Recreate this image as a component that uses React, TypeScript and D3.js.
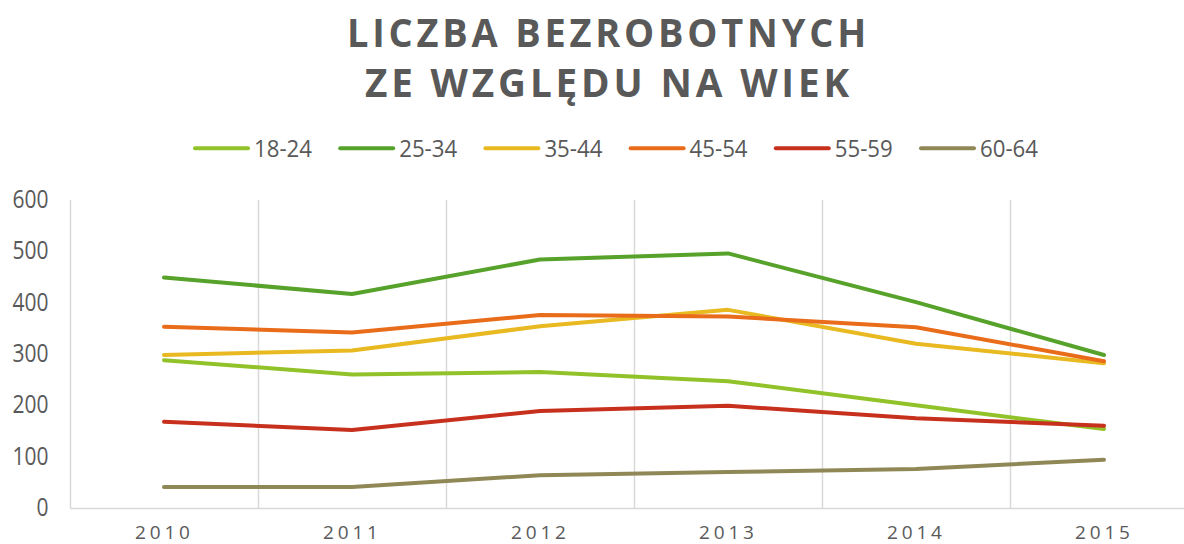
import React from "react";
import * as d3 from "d3";

const years = ["2010", "2011", "2012", "2013", "2014", "2015"];
const seriesNames = ["18-24", "25-34", "35-44", "45-54", "55-59", "60-64"];
const s1824 = [288, 260, 265, 247, 200, 154];
const s2534 = [449, 417, 484, 496, 401, 298];
const s3544 = [298, 307, 354, 386, 320, 282];
const s4554 = [353, 342, 376, 373, 352, 286];
const s5559 = [168, 152, 189, 199, 175, 160];
const s6064 = [41, 41, 64, 70, 76, 94];
const yTicks = [0, 100, 200, 300, 400, 500, 600];
const colors = ["#92c229", "#56a22a", "#e8b920", "#e96c1a", "#c8301e", "#8f8856"];

const allSeries = [s1824, s2534, s3544, s4554, s5559, s6064];

export default function App() {
  const W = 1184, H = 544;
  const left = 70, right = 1198, top = 200, bottom = 508;
  const x = d3.scaleBand<string>().domain(years).range([left, right]);
  const y = d3.scaleLinear().domain([0, 600]).range([bottom, top]);
  const line = d3
    .line<number>()
    .x((_, i) => (x(years[i]) as number) + x.bandwidth() / 2)
    .y((d) => y(d));
  const font = "'Open Sans', 'DejaVu Sans', sans-serif";
  const textColor = "#595959";
  return (
    <svg width={W} height={H} style={{ position: "absolute", left: 0, top: 0, background: "#fff" }}>
      <text x={608.5} y={47} textAnchor="middle" fontFamily={font} fontWeight={700} fontSize={40} letterSpacing={4} textLength={523} lengthAdjust="spacingAndGlyphs" fill={textColor}>
        LICZBA BEZROBOTNYCH
      </text>
      <text x={609} y={97} textAnchor="middle" fontFamily={font} fontWeight={700} fontSize={40} letterSpacing={4} textLength={488} lengthAdjust="spacingAndGlyphs" fill={textColor}>
        ZE WZGLĘDU NA WIEK
      </text>
      {seriesNames.map((n, i) => {
        const lx = 195 + i * 145.2;
        return (
          <g key={n}>
            <line x1={lx} x2={lx + 53} y1={148.3} y2={148.3} stroke={colors[i]} strokeWidth={4} strokeLinecap="round" />
            <text x={lx + 59} y={156.7} fontFamily={font} fontSize={24} fill={textColor} textLength={58} lengthAdjust="spacingAndGlyphs">
              {n}
            </text>
          </g>
        );
      })}
      {years.slice(1).map((yr) => (
        <line key={yr} x1={(x(yr) as number) + 0.5} x2={(x(yr) as number) + 0.5} y1={top} y2={bottom} stroke="#d9d9d9" strokeWidth={1.5} />
      ))}
      <line x1={left + 0.5} x2={left + 0.5} y1={top} y2={bottom} stroke="#d9d9d9" strokeWidth={1.5} />
      <line x1={left} x2={right} y1={bottom + 0.5} y2={bottom + 0.5} stroke="#d9d9d9" strokeWidth={1.5} />
      {yTicks.map((t) => (
        <text key={t} x={48.5} y={y(t) + 8} textAnchor="end" fontFamily={font} fontSize={25} fill={textColor} textLength={12 * String(t).length} lengthAdjust="spacingAndGlyphs">
          {t}
        </text>
      ))}
      {years.map((yr) => (
        <text key={yr} x={(x(yr) as number) + x.bandwidth() / 2 + 0.4} y={538.5} textAnchor="middle" fontFamily={font} fontSize={19} letterSpacing={3.8} fill={textColor}>
          {yr}
        </text>
      ))}
      {allSeries.map((s, i) => (
        <path key={i} d={line(s) || ""} fill="none" stroke={colors[i]} strokeWidth={4} strokeLinecap="round" strokeLinejoin="round" />
      ))}
    </svg>
  );
}
